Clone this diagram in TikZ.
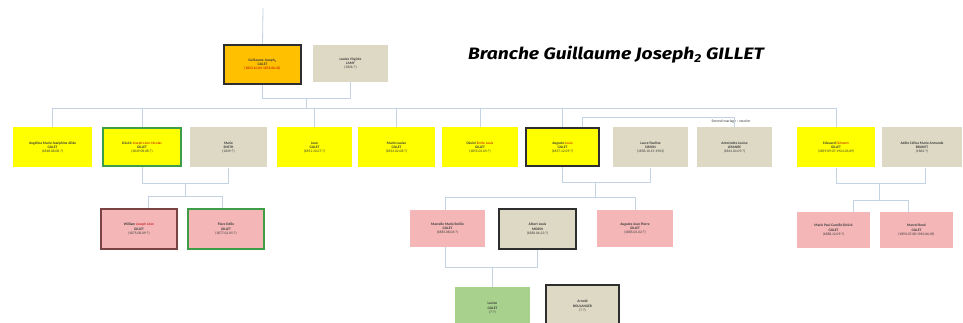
\documentclass[tikz,border=0pt]{standalone}
\usepackage{fontspec}
\usepackage{graphicx}
\setmainfont{Carlito}
\newfontfamily\titlefont{Fira Sans}
\usetikzlibrary{calc}
\definecolor{yel}{HTML}{FFFF00}
\definecolor{ora}{HTML}{FFC000}
\definecolor{bei}{HTML}{DDD9C4}
\definecolor{pnk}{HTML}{F4B6B6}
\definecolor{grn}{HTML}{A9D18E}
\definecolor{grb}{HTML}{3E9E48}
\definecolor{dkb}{HTML}{2E2E2E}
\definecolor{wrb}{HTML}{7A4444}
\definecolor{lnc}{HTML}{C3D3E3}
\definecolor{txt}{HTML}{3A3A3A}
\definecolor{dred}{HTML}{C00000}
\tikzset{
  person/.style={rectangle, inner sep=1pt, align=center, text=txt,
    font=\fontsize{3.6}{4.4}\selectfont, minimum height=40pt},
  pyel/.style={person, fill=yel},
  pora/.style={person, fill=ora},
  pbei/.style={person, fill=bei},
  ppnk/.style={person, fill=pnk},
  pgrn/.style={person, fill=grn},
  bdark/.style={draw=dkb, line width=2pt},
  bgreen/.style={draw=grb, line width=2pt},
  bred/.style={draw=wrb, line width=1.6pt},
  conn/.style={draw=lnc, line width=0.8pt},
  lab/.style={font=\fontsize{3.8}{4.4}\selectfont, text=txt}
}
\begin{document}
\begin{tikzpicture}[x=1pt,y=-1pt]
\useasboundingbox (0,0) rectangle (963,323);
\fill[white] (0,0) rectangle (963,323);
\clip (0,0) rectangle (963,323);

% title
\node[anchor=west, inner sep=0pt, font=\titlefont\bfseries\itshape\fontsize{16.5}{19}\selectfont] (title) at (468,55) {\scalebox{1.17}[1]{Branche Guillaume Joseph\textsubscript{2} GILLET}};

% generation 1
\node[pora, bdark, minimum width=77pt, minimum height=39pt] (g) at (262.5,64.5) {\textbf{Guillaume Joseph\textsubscript{2}}\\\textbf{GILLET}\\\textcolor{dred}{(1823.10.03-1876.06.03)}};
\node[pbei, minimum width=75pt, minimum height=37pt] (l) at (350.5,63.5) {\textbf{Louise Virginie}\\\textbf{LAMY}\\(1826-?)};

% generation 2
\node[pyel, minimum width=79pt] (a1) at (52.5,147.5) {\textbf{Angélina Marie Joséphine Alida}\\\textbf{GILLET}\\(1848.08.08-?)};
\node[pyel, bgreen, minimum width=78pt, minimum height=38pt] (de) at (142,147.5) {\textbf{Désiré} \textcolor{dred}{Joseph Léon Nicolas}\\\textbf{GILLET}\\(1849.08.08-?)};
\node[pbei, minimum width=77pt] (ma) at (228.5,147.5) {\textbf{Marie}\\\textbf{SMITH}\\(1849-?)};
\node[pyel, minimum width=75pt] (je) at (314.5,147.5) {\textbf{Jean}\\\textbf{GILLET}\\(1851.10.07-?)};
\node[pyel, minimum width=77pt] (ml) at (396.5,147.5) {\textbf{Marie Louise}\\\textbf{GILLET}\\(1853.02.08-?)};
\node[pyel, minimum width=76pt] (d2) at (480,147.5) {\textbf{Désiré} \textcolor{dred}{Emile Louis}\\\textbf{GILLET}\\(1855.03.05-?)};
\node[pyel, bdark, minimum width=73pt, minimum height=38pt] (au) at (562.5,147.5) {\textbf{Auguste} \textcolor{dred}{Louis}\\\textbf{GILLET}\\(1857.12.09-?)};
\node[pbei, minimum width=75pt] (la) at (650.5,147.5) {\textbf{Laure Pauline}\\\textbf{SIMON}\\(1858.10.15-1903)};
\node[pbei, minimum width=75pt] (an) at (734.5,147.5) {\textbf{Antoinette Louise}\\\textbf{LEMAIRE}\\(1861.04.09-?)};
\node[pyel, minimum width=78pt] (ed) at (836,147.5) {\textbf{Edouard} \textcolor{dred}{Clément}\\\textbf{GILLET}\\(1859.09.07-1924.03.09)};
\node[pbei, minimum width=80pt] (ad) at (922,147.5) {\textbf{Adèle Célina Marie Armande}\\\textbf{BRUNET}\\(1863-?)};

% generation 3
\node[ppnk, bred, minimum width=76pt, minimum height=40pt] (wi) at (139,229) {\textbf{William} \textcolor{dred}{Joseph Léon}\\\textbf{GILLET}\\(1875.08.09-?)};
\node[ppnk, bgreen, minimum width=76pt, minimum height=40pt] (fl) at (226,229) {\textbf{Flore Odile}\\\textbf{GILLET}\\(1877.02.05-?)};
\node[ppnk, minimum width=75pt, minimum height=37pt] (mc) at (447.5,228.5) {\textbf{Marcelle Marie Emilie}\\\textbf{GILLET}\\(1883.08.06-?)};
\node[pbei, bdark, minimum width=77pt, minimum height=40pt] (al) at (537.5,229) {\textbf{Albert Louis}\\\textbf{MORIN}\\(1880.06.23-?)};
\node[ppnk, minimum width=76pt, minimum height=37pt] (a2) at (635,228.5) {\textbf{Auguste Jean Pierre}\\\textbf{GILLET}\\(1885.03.02-?)};
\node[ppnk, minimum width=73pt, minimum height=36pt] (mp) at (833.5,230) {\textbf{Marie Paul Camille Désiré}\\\textbf{GILLET}\\(1888.12.09-?)};
\node[ppnk, minimum width=73pt, minimum height=36pt] (mr) at (916.5,230) {\textbf{Marcel René}\\\textbf{GILLET}\\(1890.07.08-1940.06.09)};

% generation 4
\node[pgrn, minimum width=75pt, minimum height=42pt] (lu) at (492.5,308) {\textbf{Lucien}\\\textbf{GILLET}\\(?-?)};
\node[pbei, bdark, minimum width=73pt, minimum height=42pt] (ar) at (582.5,306) {\textbf{Arnold}\\\textbf{BOULANGER}\\(?-?)};

% label second marriage
\node[lab] (sm) at (731,121.5) {Second mariage : veuvier};

% connectors
\coordinate (top) at (263,8);
\draw[conn] (top) -- (g.north);

% G + L
\draw[conn] (g.south) -- (g.south |- 0,98) -- (l.south |- 0,98) -- (l.south);
\path ($(g.south)!0.5!(l.south)$) coordinate (glm);
\draw[conn] (glm |- 0,98) -- (glm |- 0,108);
\draw[conn] (a1.north |- 0,108) -- (ed.north |- 0,108);
\foreach \c in {a1,de,je,ml,d2,au,ed}{
  \draw[conn] (\c.north |- 0,108) -- (\c.north);
}

% second marriage
\draw[conn] ([xshift=20pt]au.north) -- ([xshift=20pt]au.north |- 0,117) -- (an.north |- 0,117) -- (an.north);

% Desire + Marie
\draw[conn] (de.south) -- (de.south |- 0,183) -- (ma.south |- 0,183) -- (ma.south);
\path ($(de.south)!0.5!(ma.south)$) coordinate (dmm);
\draw[conn] (dmm |- 0,183) -- (dmm |- 0,196);
\draw[conn] ([xshift=9pt]wi.north |- 0,196) -- ([xshift=-4pt]fl.north |- 0,196);
\draw[conn] ([xshift=9pt]wi.north |- 0,196) -- ([xshift=9pt]wi.north);
\draw[conn] ([xshift=-4pt]fl.north |- 0,196) -- ([xshift=-4pt]fl.north);

% Auguste + Laure
\draw[conn] (au.south) -- (au.south |- 0,182) -- (la.south |- 0,182) -- (la.south);
\path ($(au.south)!0.37!(la.south)$) coordinate (alm);
\draw[conn] (alm |- 0,182) -- (alm |- 0,197);
\draw[conn] ([xshift=-2pt]mc.north |- 0,197) -- (a2.north |- 0,197);
\draw[conn] ([xshift=-2pt]mc.north |- 0,197) -- ([xshift=-2pt]mc.north);
\draw[conn] (a2.north |- 0,197) -- (a2.north);

% Marcelle + Albert
\draw[conn] ([xshift=-2pt]mc.south) -- ([xshift=-2pt]mc.south |- 0,267) -- (al.south |- 0,267) -- (al.south);
\draw[conn] (lu.north |- 0,267) -- (lu.north);

% Edouard + Adele
\draw[conn] (ed.south) -- (ed.south |- 0,183) -- ([xshift=3pt]ad.south |- 0,183) -- ([xshift=3pt]ad.south);
\path ($(ed.south)!0.5!(ad.south)$) coordinate (eam);
\draw[conn] (eam |- 0,183) -- (eam |- 0,200);
\draw[conn] ([xshift=20pt]mp.north |- 0,200) -- ([xshift=-8pt]mr.north |- 0,200);
\draw[conn] ([xshift=20pt]mp.north |- 0,200) -- ([xshift=20pt]mp.north);
\draw[conn] ([xshift=-8pt]mr.north |- 0,200) -- ([xshift=-8pt]mr.north);
\end{tikzpicture}
\end{document}
